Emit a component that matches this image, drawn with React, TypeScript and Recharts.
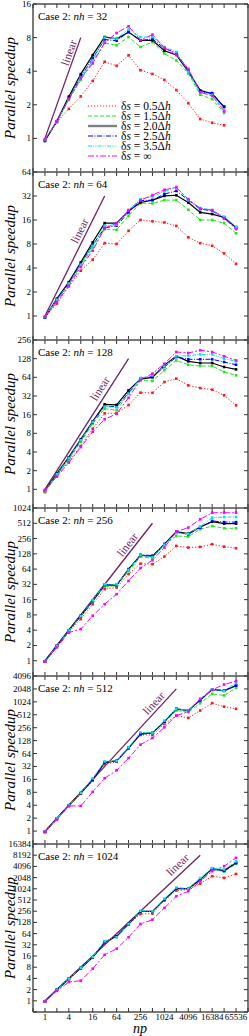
import { LineChart, Line, XAxis, YAxis, ReferenceLine, ReferenceDot } from "recharts";

const SERIF = '"Liberation Serif", "Times New Roman", serif';

// processor counts on the x axis
const npValues = [1, 2, 4, 8, 16, 32, 64, 128, 256, 512, 1024, 2048, 4096, 8192, 16384, 32768, 65536];
// one panel per grid size
const nhValues = [32, 64, 128, 256, 512, 1024];
const topSpeedup = [16, 64, 256, 1024, 4096, 16384];
const linearTop = [8, 32, 128, 512, 2048, 8192];

// parallel speedup, one row per panel (nh = 32 ... 1024), one value per np
const speedup05 = [
  [0.97, 1.4, 1.84, 2.38, 3.27, 4.86, 4.47, 5.55, 4.08, 3.78, 3.34, 2.71, 2.07, 1.49, 1.38, 1.31],
  [0.97, 1.43, 2.35, 3.7, 5.1, 8.2, 8.0, 11.7, 16, 15.4, 14.9, 13.5, 9.7, 8.2, 7.6, 6.1, 4.5],
  [0.9, 1.65, 2.8, 5.0, 9.5, 16.8, 16.8, 22.9, 36.2, 36, 53.8, 61, 47.5, 43, 40.5, 32.8, 22.6],
  [0.95, 1.9, 3.7, 6.6, 13, 25.8, 27.7, 51, 82, 80, 113, 183, 170, 175, 198, 177, 165],
  [0.95, 1.9, 3.8, 7.4, 15, 36, 41, 89, 173, 173, 313, 490, 433, 643, 954, 790, 704],
  [0.95, 1.9, 3.8, 7.4, 14.5, 36, 52, 112, 215, 221, 492, 916, 975, 1415, 2230, 2010, 2570],
];
const speedup15 = [
  [0.98, 1.4, 2.22, 3.34, 4.86, 7.16, 6.82, 8.1, 6.6, 7.3, 5.77, 5.0, 3.83, 2.46, 2.25, 1.69],
  [0.97, 1.6, 2.5, 4.2, 7.2, 12.3, 12.0, 18.1, 26, 25.8, 28.4, 28.4, 21.5, 16, 16, 14.6, 10.9],
  [0.93, 1.7, 3.0, 5.8, 11.5, 20, 18.8, 35, 57, 56, 83, 120, 102, 97.5, 97.5, 78, 69],
  [0.97, 1.95, 3.9, 7.4, 14.5, 29, 30, 58, 112, 105, 194, 288, 280, 390, 452, 408, 408],
  [0.96, 1.95, 3.9, 7.6, 15.5, 40, 43, 84, 182, 190, 340, 644, 588, 954, 1575, 1440, 2180],
  [0.96, 1.97, 3.9, 7.6, 14.7, 38, 53, 114, 250, 250, 520, 1020, 1020, 1660, 3370, 3000, 4780],
];
const speedup20 = [
  [0.95, 1.43, 2.37, 3.77, 5.57, 8.1, 7.8, 8.96, 7.56, 7.56, 6.1, 5.6, 3.96, 2.69, 2.51, 1.91],
  [0.95, 1.65, 2.66, 4.7, 8.4, 14.6, 14.6, 20.8, 26.5, 28.4, 32.1, 32.7, 26.5, 19.9, 19, 17.2, 12.9],
  [0.96, 1.79, 3.3, 6.4, 12.5, 23.5, 23, 39.5, 60, 64, 100, 140, 116, 109, 109, 94, 86],
  [0.97, 1.98, 4.0, 7.7, 15.2, 31.5, 31, 64, 120, 113, 198, 350, 320, 433, 550, 503, 503],
  [0.96, 1.97, 4.0, 7.7, 15.6, 40, 43, 86, 182, 193, 355, 704, 643, 1140, 2000, 1850, 2450],
  [0.96, 1.98, 3.9, 7.6, 14.7, 38, 54, 116, 254, 254, 525, 1040, 1040, 1810, 3590, 3170, 5080],
];
const speedup25 = [
  [0.95, 1.42, 2.3, 3.55, 5.2, 7.7, 7.5, 9.0, 7.5, 7.8, 6.4, 5.85, 4.1, 2.6, 2.55, 1.93],
  [0.96, 1.6, 2.55, 4.5, 7.8, 12.7, 13.6, 19.9, 27.9, 28.5, 33.8, 37.1, 28.5, 21.9, 20.9, 16.8, 12.7],
  [0.95, 1.75, 3.2, 6.2, 12, 22, 21.5, 36, 62, 66, 94, 136, 125, 125, 125, 113, 102],
  [0.97, 1.97, 3.95, 7.6, 15, 31, 31, 62, 123, 118, 200, 340, 310, 420, 570, 540, 540],
  [0.96, 1.97, 4.0, 7.6, 15.6, 40, 43, 86, 185, 193, 355, 704, 643, 1100, 1950, 1900, 2470],
  [0.96, 1.98, 3.9, 7.6, 14.7, 38, 54, 116, 254, 254, 530, 1050, 1040, 1810, 3590, 3100, 5080],
];
const speedup35 = [
  [0.97, 1.42, 2.25, 3.5, 5.0, 8.0, 7.8, 9.5, 8.1, 8.1, 6.6, 5.95, 3.95, 2.58, 2.45, 1.8],
  [0.97, 1.6, 2.55, 4.4, 7.6, 13.6, 14, 21.3, 29.2, 31.6, 36.4, 41.7, 28.3, 22.6, 21.3, 17.6, 13.2],
  [0.96, 1.75, 3.2, 6.2, 12.2, 21.5, 21, 35, 62, 69, 96, 140, 143, 150, 150, 128, 116],
  [0.97, 1.97, 3.95, 7.6, 15.5, 32, 32, 62, 121, 110, 194, 330, 318, 440, 660, 680, 680],
  [0.97, 1.97, 4.0, 7.8, 17, 42, 43, 89, 199, 193, 375, 704, 643, 1200, 2000, 1850, 2800],
  [0.97, 1.98, 3.95, 7.7, 15, 40, 51, 116, 264, 254, 553, 1110, 1040, 2000, 3680, 3400, 5600],
];
const speedupInf = [
  [0.98, 1.42, 2.25, 3.45, 4.7, 7.2, 8.8, 10.1, 7.6, 8.5, 6.5, 5.6, 4.2, 2.6, 2.4, 1.75],
  [0.98, 1.5, 2.4, 4.1, 6.6, 12.7, 14.5, 21.3, 28.4, 32.8, 38.3, 40.9, 29.2, 22.3, 21.3, 16.9, 12.3],
  [0.98, 1.6, 2.7, 4.8, 8.5, 13.5, 16.5, 30, 58, 73.5, 106, 164, 158, 175, 164, 140, 120],
  [0.96, 1.83, 3.6, 4.2, 7.7, 13, 20.5, 37.5, 67, 96, 170, 350, 420, 613, 826, 826, 826],
  [0.96, 1.85, 3.85, 3.85, 8.2, 17, 26, 50, 103, 147, 262, 490, 608, 1200, 1950, 2600, 3100],
  [0.96, 1.85, 3.2, 3.46, 7.3, 17.3, 25, 51, 116, 152, 313, 645, 880, 1630, 3040, 4150, 6950],
];

const series = [
  { key: "s05", label: "0.5", data: speedup05, color: "#ff1a1a", dash: "1.2 1.8", width: 1, legendColor: "#ff1a1a", legendWidth: 1 },
  { key: "s15", label: "1.5", data: speedup15, color: "#22e622", dash: "4 2", width: 1, legendColor: "#22e622", legendWidth: 1 },
  { key: "s20", label: "2.0", data: speedup20, color: "#000000", dash: undefined, width: 1.2, legendColor: "#808080", legendWidth: 2.4 },
  { key: "s25", label: "2.5", data: speedup25, color: "#0000ff", dash: "5 1.5 1 1.5", width: 1, legendColor: "#0000ff", legendWidth: 1 },
  { key: "s35", label: "3.5", data: speedup35, color: "#00e5ee", dash: "4 1.2 1 1.2 1 1.2", width: 1, legendColor: "#00e5ee", legendWidth: 1 },
  { key: "sinf", label: "∞", data: speedupInf, color: "#ff00ff", dash: "6 2 2 2", width: 1, legendColor: "#ff00ff", legendWidth: 1 },
];

// layout
const W = 249;
const PLOT_TOP = 4;
const PANEL_H = 168;
const PAD = 6;
const Y_AXIS_W = 33;
const PX_PER_X = (W - 1 - Y_AXIS_W) / 18;
const FRAME = { stroke: "#7a7a7a", strokeWidth: 2 };
const TICK = "#333";
const LINEAR_COLOR = "#6e2160";
// where the "linear" caption sits, in log2 units (x, y)
const linearLabelAt = [
  [2.0, 2.55],
  [2.9, 3.55],
  [4.6, 5.4],
  [6.9, 7.6],
  [9.1, 9.9],
  [11.1, 12.15],
];

const range = (a: number, b: number) => {
  const out: number[] = [];
  for (let v = a; v <= b; v++) out.push(v);
  return out;
};

const panelRows = (p: number) =>
  npValues
    .map((np, i) => {
      const row: Record<string, number> = { x: Math.log2(np) };
      series.forEach((s) => {
        const v = s.data[p][i];
        if (v !== undefined) row[s.key] = Math.log2(v);
      });
      return row;
    })
    .filter((r) => Object.keys(r).length > 1);

const Panel = ({ p }: { p: number }) => {
  const top = Math.log2(topSpeedup[p]);
  const last = p === nhValues.length - 1;
  const bottomPad = last ? 30 : PAD;
  const pxPerY = PANEL_H / (top + 1);
  const angle = (Math.atan2(pxPerY, PX_PER_X) * 180) / Math.PI;
  const lin = Math.log2(linearTop[p]);
  const [lx, ly] = linearLabelAt[p];

  return (
    <div style={{ position: "absolute", left: 0, top: PLOT_TOP + p * PANEL_H - PAD }}>
      <LineChart
        width={W}
        height={PANEL_H + PAD + bottomPad}
        data={panelRows(p)}
        margin={{ top: PAD - 1, right: 0, bottom: bottomPad - 1, left: 0 }}
      >
        <XAxis
          dataKey="x"
          type="number"
          domain={[-1, 17]}
          ticks={range(-1, 17)}
          interval={0}
          allowDataOverflow
          height={1}
          tickSize={0}
          tickMargin={0}
          tickLine={false}
          axisLine={FRAME}
          tick={(t: any) => (
            <g>
              <line x1={t.x} y1={t.y} x2={t.x} y2={t.y - 4} stroke={TICK} />
              {last && t.payload.value >= 0 && t.payload.value <= 16 && t.payload.value % 2 === 0 && (
                <text x={t.x} y={t.y + 7.5} textAnchor="middle" fontSize={9} fontFamily={SERIF} fill="#000">
                  {2 ** t.payload.value}
                </text>
              )}
            </g>
          )}
        />
        <XAxis
          xAxisId="top"
          orientation="top"
          dataKey="x"
          type="number"
          domain={[-1, 17]}
          ticks={range(-1, 17)}
          interval={0}
          allowDataOverflow
          height={1}
          tickSize={0}
          tickMargin={0}
          tickLine={false}
          axisLine={FRAME}
          tick={(t: any) => <line x1={t.x} y1={t.y} x2={t.x} y2={t.y + 4} stroke={TICK} />}
        />
        <YAxis
          type="number"
          domain={[-1, top]}
          ticks={range(-1, top)}
          interval={0}
          allowDataOverflow
          width={Y_AXIS_W}
          tickSize={0}
          tickMargin={0}
          tickLine={false}
          axisLine={FRAME}
          tick={(t: any) => (
            <g>
              <line x1={t.x} y1={t.y} x2={t.x + 4} y2={t.y} stroke={TICK} />
              {t.payload.value >= 0 && (
                <text x={t.x - 2} y={t.y + 3} textAnchor="end" fontSize={9} fontFamily={SERIF} fill="#000">
                  {2 ** t.payload.value}
                </text>
              )}
            </g>
          )}
        />
        <YAxis
          yAxisId="right"
          orientation="right"
          type="number"
          domain={[-1, top]}
          ticks={range(-1, top)}
          interval={0}
          allowDataOverflow
          width={1}
          tickSize={0}
          tickMargin={0}
          tickLine={false}
          axisLine={FRAME}
          tick={(t: any) => <line x1={t.x} y1={t.y} x2={t.x - 4} y2={t.y} stroke={TICK} />}
        />
        <ReferenceLine
          segment={[
            { x: 0, y: 0 },
            { x: lin, y: lin },
          ]}
          stroke={LINEAR_COLOR}
          strokeWidth={1.3}
        />
        <ReferenceDot
          x={lx}
          y={ly}
          r={0}
          shape={(d: any) => (
            <text
              x={d.cx}
              y={d.cy}
              transform={`rotate(${-angle} ${d.cx} ${d.cy})`}
              textAnchor="middle"
              dominantBaseline="central"
              fontSize={11.5}
              fontFamily={SERIF}
              fill={LINEAR_COLOR}
            >
              linear
            </text>
          )}
        />
        {series.map((s) => (
          <Line
            key={s.key}
            dataKey={s.key}
            type="linear"
            stroke={s.color}
            strokeWidth={s.width}
            strokeDasharray={s.dash}
            isAnimationActive={false}
            activeDot={false}
            dot={(d: any) =>
              d.cx == null || d.cy == null ? (
                <g key={`${s.key}-${d.index}`} />
              ) : (
                <rect
                  key={`${s.key}-${d.index}`}
                  x={d.cx - 1.3}
                  y={d.cy - 1.3}
                  width={2.6}
                  height={2.6}
                  fill={s.color}
                />
              )
            }
          />
        ))}
      </LineChart>
    </div>
  );
};

const Legend = () => (
  <g>
    {series.map((s, i) => {
      const y = 106 + i * 10;
      return (
        <g key={s.key}>
          <line
            x1={88}
            x2={117}
            y1={y}
            y2={y}
            stroke={s.legendColor}
            strokeWidth={s.legendWidth}
            strokeDasharray={s.dash}
          />
          <text x={121} y={y + 4} fontSize={11.5} fontFamily={SERIF} fill="#000">
            δ<tspan fontStyle="italic">s</tspan> = {s.label}
            {s.label !== "∞" && (
              <>
                Δ<tspan fontStyle="italic">h</tspan>
              </>
            )}
          </text>
        </g>
      );
    })}
  </g>
);

const App = () => {
  return (
    <div style={{ position: "absolute", left: 0, top: 0, width: W, height: 1036, background: "#fff" }}>
      {nhValues.map((_, p) => (
        <Panel key={p} p={p} />
      ))}
      <svg
        width={W}
        height={1036}
        style={{ position: "absolute", left: 0, top: 0, pointerEvents: "none" }}
      >
        {nhValues.map((nh, p) => {
          const y0 = PLOT_TOP + p * PANEL_H;
          const cy = y0 + PANEL_H / 2;
          return (
            <g key={nh}>
              <text
                x={10}
                y={cy}
                transform={`rotate(-90 10 ${cy})`}
                textAnchor="middle"
                dominantBaseline="central"
                fontSize={15}
                fontStyle="italic"
                fontFamily={SERIF}
                fill="#000"
              >
                Parallel speedup
              </text>
              <text x={38} y={y0 + 16} fontSize={11} fontFamily={SERIF} fill="#000">
                Case 2: <tspan fontStyle="italic">nh</tspan> = {nh}
              </text>
            </g>
          );
        })}
        <Legend />
        <text x={140} y={1032.5} textAnchor="middle" fontSize={14} fontStyle="italic" fontFamily={SERIF} fill="#000">
          np
        </text>
      </svg>
    </div>
  );
};

export default App;
